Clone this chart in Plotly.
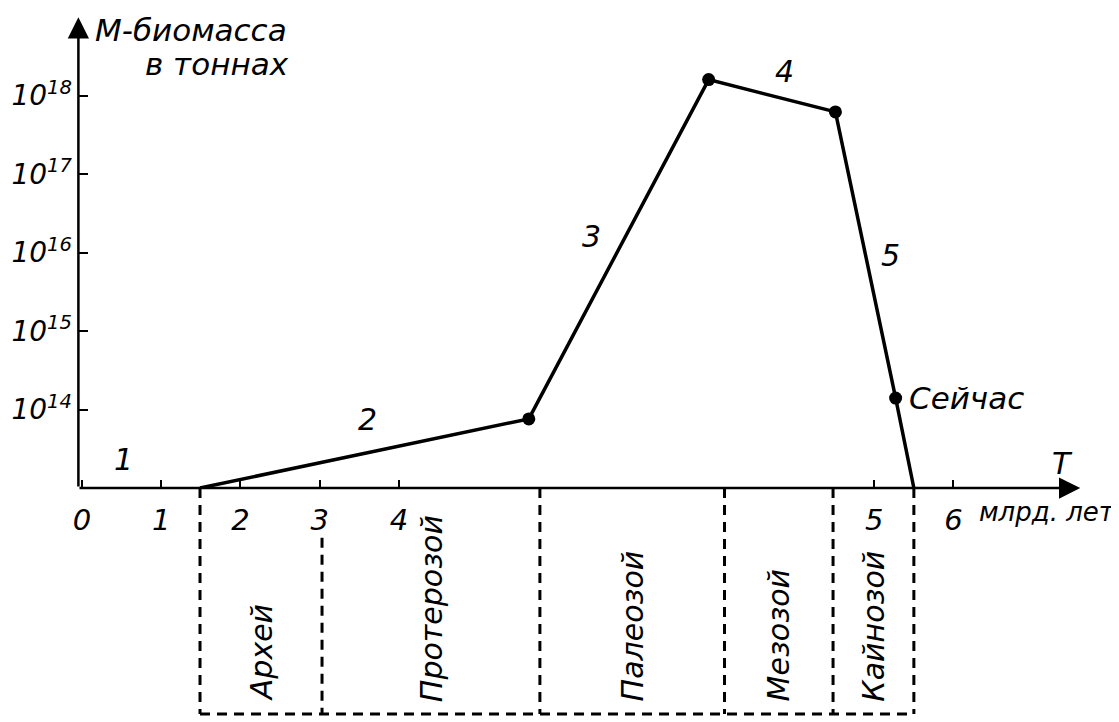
import math
import plotly.graph_objects as go

# time axis in drawing units: 0..4 evenly spaced, then the axis is stretched up to 5 and 6
tick_pos = [0, 1, 2, 3, 4, 10, 11]
tick_text = ["0", "1", "2", "3", "4", "5", "6"]

# biomass curve, tonnes
curve_t = [1.49, 5.64, 7.91, 9.51, 10.27, 10.50]
curve_m = [1e13, 7.6e13, 1.6e18, 6.2e17, 1.4e14, 1e13]
dot_t = curve_t[1:5]
dot_m = curve_m[1:5]

mass_ticks = [1e14, 1e15, 1e16, 1e17, 1e18]
mass_text = ["10<sup>14</sup>", "10<sup>15</sup>", "10<sup>16</sup>", "10<sup>17</sup>", "10<sup>18</sup>"]

# geological eras below the time axis
era_bounds = [1.49, 3.03, 5.78, 8.11, 9.48, 10.50]
era_names = ["Архей", "Протерозой", "Палеозой", "Мезозой", "Кайнозой"]

# numbered stages of the curve
stage_names = ["1", "2", "3", "4", "5"]
stage_t = [0.52, 3.61, 6.43, 8.87, 10.2]
stage_m = [2.3e13, 7.4e13, 1.6e16, 2.0e18, 9.3e15]

now_t = curve_t[4]
now_m = curve_m[4]

fig = go.Figure()
fig.add_trace(go.Scatter(
    x=curve_t, y=curve_m, mode="lines",
    line=dict(color="black", width=3.5),
    hoverinfo="skip", showlegend=False,
))
fig.add_trace(go.Scatter(
    x=dot_t, y=dot_m, mode="markers",
    marker=dict(color="black", size=13),
    hoverinfo="skip", showlegend=False,
))

ann = []
# axis lines with arrows
arrow = dict(showarrow=True, arrowhead=2, arrowsize=1.7, arrowwidth=2.5, arrowcolor="black",
             text="", standoff=0, startstandoff=0, xref="x", yref="y", axref="x", ayref="y")
ann.append(dict(x=12.6, y=13, ax=-0.05, ay=13, **arrow))
ann.append(dict(x=-0.045, y=19.0, ax=-0.045, ay=13, **arrow))

for name, t, m in zip(stage_names, stage_t, stage_m):
    ann.append(dict(x=t, y=math.log10(m), text=name, showarrow=False, font=dict(size=30)))

ann.append(dict(x=now_t + 0.14, y=math.log10(now_m), text="Сейчас", xanchor="left",
                showarrow=False, font=dict(size=31)))
ann.append(dict(x=0.14, y=18.84, text="М-биомасса", xanchor="left", showarrow=False, font=dict(size=31)))
ann.append(dict(x=0.77, y=18.40, text="в тоннах", xanchor="left", showarrow=False, font=dict(size=31)))
ann.append(dict(x=12.37, y=13.31, text="T", showarrow=False, font=dict(size=30)))
ann.append(dict(x=11.3, y=-0.05, yref="paper", text="млрд. лет", xanchor="left", yanchor="middle",
                showarrow=False, font=dict(size=26)))

for i, name in enumerate(era_names):
    mid = (era_bounds[i] + era_bounds[i + 1]) / 2
    ann.append(dict(x=mid, y=-0.455, yref="paper", text=name, textangle=-90,
                    xanchor="center", yanchor="bottom", showarrow=False, font=dict(size=30)))

dash = dict(color="black", width=3, dash="10px,7px")
shapes = []
for i, b in enumerate(era_bounds):
    top = -0.105 if i == 1 else 0
    shapes.append(dict(type="line", xref="x", yref="paper", x0=b, x1=b, y0=top, y1=-0.477, line=dash))
shapes.append(dict(type="line", xref="x", yref="paper", x0=era_bounds[0], x1=era_bounds[-1],
                   y0=-0.477, y1=-0.477, line=dash))

# the page body has an 8px margin, so the figure is 8px smaller than the window
fig.update_layout(
    width=1111, height=714,
    margin=dict(l=70, r=34, t=6, b=234),
    plot_bgcolor="white", paper_bgcolor="white",
    font=dict(family="DejaVu Sans", style="italic", size=28, color="black"),
    annotations=ann, shapes=shapes,
    xaxis=dict(range=[-0.05, 12.66], tickvals=tick_pos, ticktext=tick_text, automargin=False,
               ticks="inside", ticklen=8, tickwidth=2, tickcolor="black", tickfont=dict(size=29),
               showgrid=False, zeroline=False, showline=False, ticklabelstandoff=12),
    yaxis=dict(type="log", range=[13, 19.04], tickvals=mass_ticks, ticktext=mass_text, automargin=False,
               ticks="inside", ticklen=10, tickwidth=2, tickcolor="black", tickfont=dict(size=28),
               showgrid=False, zeroline=False, showline=False, ticklabelstandoff=5),
)

fig.write_html("out.html")
